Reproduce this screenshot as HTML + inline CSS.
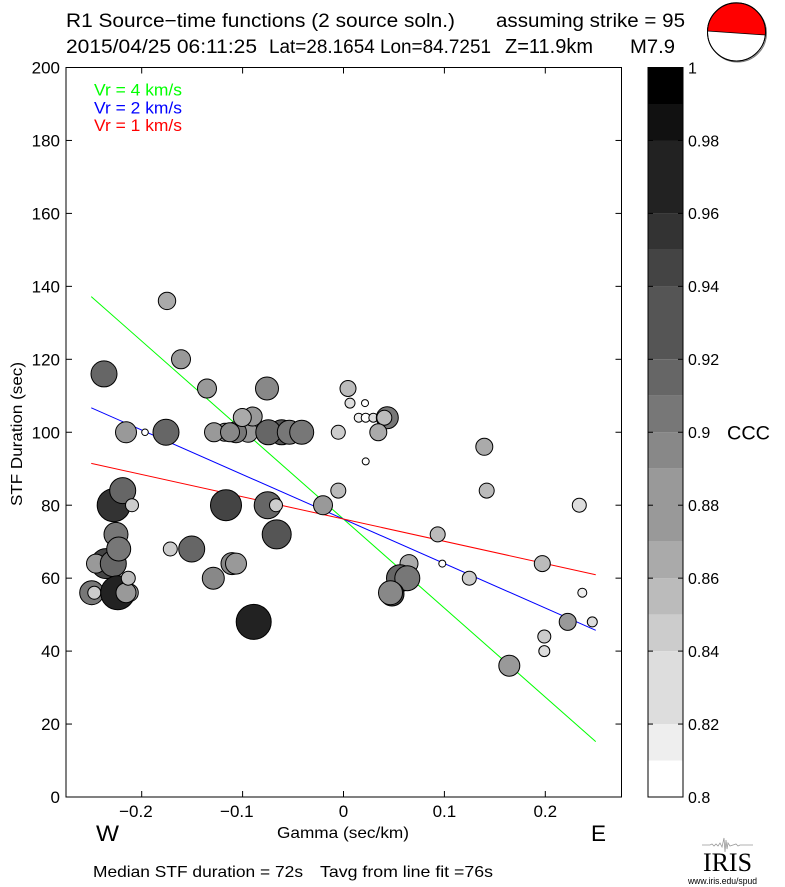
<!DOCTYPE html>
<html><head><meta charset="utf-8"><style>
html,body{margin:0;padding:0;background:#fff;}
svg{display:block;}
text{font-family:"Liberation Sans",sans-serif;fill:#000;}
</style></head><body>
<svg width="785" height="887" viewBox="0 0 785 887" xmlns="http://www.w3.org/2000/svg">
<rect width="785" height="887" fill="#fff"/>
<!-- titles -->
<text x="66" y="27" font-size="19" textLength="389" lengthAdjust="spacingAndGlyphs">R1 Source−time functions (2 source soln.)</text>
<text x="496" y="27" font-size="19" textLength="189" lengthAdjust="spacingAndGlyphs">assuming strike = 95</text>
<text x="66" y="53" font-size="19" textLength="191" lengthAdjust="spacingAndGlyphs">2015/04/25 06:11:25</text>
<text x="269" y="53" font-size="19" textLength="222" lengthAdjust="spacingAndGlyphs">Lat=28.1654 Lon=84.7251</text>
<text x="505" y="53" font-size="20">Z=11.9km</text>
<text x="630" y="53" font-size="19" textLength="45" lengthAdjust="spacingAndGlyphs">M7.9</text>
<!-- beachball -->
<circle cx="737.5" cy="33" r="29" fill="none" stroke="#777" stroke-width="1"/>
<circle cx="736.5" cy="32" r="29" fill="#fff" stroke="#000" stroke-width="1"/>
<path d="M707.5,31 A29,29 0 1,1 765.3,35 Z" fill="#f00" stroke="#000" stroke-width="0.8"/>
<circle cx="736.5" cy="32" r="29" fill="none" stroke="#000" stroke-width="1"/>

<!-- regression lines -->
<line x1="91.25" y1="296.6" x2="595.75" y2="741.6" stroke="#0f0" stroke-width="1"/>
<line x1="91.25" y1="407.8" x2="595.75" y2="630.3" stroke="#00f" stroke-width="1"/>
<line x1="91.25" y1="463.4" x2="595.75" y2="574.7" stroke="#f00" stroke-width="1"/>

<!-- markers -->
<g stroke="#000" stroke-width="1">
<circle cx="104" cy="373.9" r="13" fill="#666"/>
<circle cx="167" cy="300.9" r="8.7" fill="#aaa"/>
<circle cx="181" cy="359.3" r="9.5" fill="#999"/>
<circle cx="207" cy="388.5" r="9.5" fill="#999"/>
<circle cx="267" cy="388.5" r="11.5" fill="#888"/>
<circle cx="126" cy="432.25" r="10.5" fill="#999"/>
<circle cx="145" cy="432.25" r="3.3" fill="#fff"/>
<circle cx="166" cy="432.25" r="13" fill="#666"/>

<circle cx="248" cy="432.25" r="10" fill="#999"/>
<circle cx="225" cy="432.25" r="9" fill="#999"/>
<circle cx="236" cy="432.25" r="10.5" fill="#777"/>
<circle cx="214" cy="432.25" r="9.5" fill="#999"/>
<circle cx="230" cy="432.25" r="9.5" fill="#888"/>
<circle cx="252.7" cy="416.5" r="9.5" fill="#999"/>
<circle cx="242.3" cy="417.5" r="9" fill="#aaa"/>
<circle cx="281.7" cy="432.25" r="12.5" fill="#555"/>
<circle cx="268.3" cy="432.25" r="12.5" fill="#666"/>
<circle cx="289.3" cy="432.25" r="12" fill="#777"/>
<circle cx="301.7" cy="432.25" r="12" fill="#777"/>

<circle cx="113.7" cy="505.2" r="16.5" fill="#333"/>
<circle cx="122.7" cy="490.6" r="13" fill="#666"/>
<circle cx="132" cy="505.2" r="6.5" fill="#ccc"/>
<circle cx="106" cy="563.6" r="15" fill="#444"/>
<circle cx="96" cy="563.6" r="9.5" fill="#999"/>
<circle cx="113.3" cy="563.6" r="13" fill="#666"/>
<circle cx="116" cy="534.4" r="12" fill="#777"/>
<circle cx="118.7" cy="549" r="12" fill="#777"/>
<circle cx="91.7" cy="592.7" r="12" fill="#777"/>
<circle cx="94.3" cy="592.7" r="6.5" fill="#ccc"/>
<circle cx="117.7" cy="592.7" r="17" fill="#222"/>
<circle cx="129.3" cy="592.7" r="9" fill="#999"/>
<circle cx="126" cy="592.7" r="10" fill="#999"/>
<circle cx="128.3" cy="578.2" r="7" fill="#bbb"/>

<circle cx="170.3" cy="549" r="7" fill="#ccc"/>
<circle cx="191.7" cy="549" r="13" fill="#666"/>
<circle cx="226" cy="505.2" r="15.5" fill="#444"/>
<circle cx="267.7" cy="505.2" r="13.5" fill="#666"/>
<circle cx="276" cy="505.2" r="6.5" fill="#ccc"/>
<circle cx="276.7" cy="534.4" r="14.5" fill="#555"/>
<circle cx="232" cy="563.6" r="11" fill="#888"/>
<circle cx="236" cy="563.6" r="10.5" fill="#999"/>
<circle cx="213.3" cy="578.2" r="11" fill="#888"/>
<circle cx="253.7" cy="621.9" r="17.5" fill="#222"/>

<circle cx="348" cy="388.5" r="8" fill="#bbb"/>
<circle cx="350" cy="403.1" r="5" fill="#ddd"/>
<circle cx="365" cy="403.1" r="3.5" fill="#fff"/>
<circle cx="358.7" cy="417.7" r="4.5" fill="#eee"/>
<circle cx="365.7" cy="417.7" r="4.5" fill="#fff"/>
<circle cx="373.3" cy="417.7" r="4.5" fill="#ddd"/>
<circle cx="387.3" cy="417.7" r="11" fill="#777"/>
<circle cx="384.3" cy="417.7" r="7.5" fill="#bbb"/>
<circle cx="338.3" cy="432.25" r="7" fill="#ccc"/>
<circle cx="378.3" cy="432.25" r="8.5" fill="#aaa"/>
<circle cx="365.7" cy="461.4" r="3.5" fill="#fff"/>
<circle cx="338.3" cy="490.6" r="7.5" fill="#bbb"/>
<circle cx="323" cy="505.2" r="9.5" fill="#999"/>

<circle cx="484.3" cy="446.8" r="8.5" fill="#aaa"/>
<circle cx="486.7" cy="490.6" r="7.5" fill="#bbb"/>
<circle cx="579.3" cy="505.2" r="7" fill="#ddd"/>
<circle cx="437.7" cy="534.4" r="7.5" fill="#bbb"/>
<circle cx="442.3" cy="563.6" r="3.5" fill="#fff"/>
<circle cx="409" cy="563.6" r="9" fill="#aaa"/>
<circle cx="400" cy="578.2" r="13.5" fill="#666"/>
<circle cx="407.3" cy="578.2" r="12.5" fill="#777"/>
<circle cx="392" cy="594" r="12" fill="#444"/>
<circle cx="390.5" cy="592.7" r="12" fill="#888"/>
<circle cx="469.3" cy="578.2" r="7" fill="#ccc"/>
<circle cx="542.3" cy="563.6" r="8" fill="#bbb"/>
<circle cx="582.3" cy="592.7" r="4.5" fill="#eee"/>
<circle cx="567.7" cy="621.9" r="8.5" fill="#999"/>
<circle cx="592.3" cy="621.9" r="5" fill="#ddd"/>
<circle cx="544.3" cy="636.5" r="6.5" fill="#ccc"/>
<circle cx="544.3" cy="651.1" r="5.5" fill="#ddd"/>
<circle cx="509.3" cy="665.7" r="10.5" fill="#999"/>
</g>

<!-- legend -->
<text x="94" y="95.5" font-size="17" style="fill:#0f0" textLength="88" lengthAdjust="spacingAndGlyphs">Vr = 4 km/s</text>
<text x="94" y="113.5" font-size="17" style="fill:#00f" textLength="88" lengthAdjust="spacingAndGlyphs">Vr = 2 km/s</text>
<text x="94" y="131" font-size="17" style="fill:#f00" textLength="88" lengthAdjust="spacingAndGlyphs">Vr = 1 km/s</text>

<!-- axes frame -->
<rect x="66" y="67.5" width="555.5" height="729.5" fill="none" stroke="#000" stroke-width="1"/>
<g stroke="#000" stroke-width="1">
<line x1="141.7" y1="67.5" x2="141.7" y2="73.5"/><line x1="141.7" y1="797" x2="141.7" y2="791"/>
<line x1="242.6" y1="67.5" x2="242.6" y2="73.5"/><line x1="242.6" y1="797" x2="242.6" y2="791"/>
<line x1="343.5" y1="67.5" x2="343.5" y2="73.5"/><line x1="343.5" y1="797" x2="343.5" y2="791"/>
<line x1="444.4" y1="67.5" x2="444.4" y2="73.5"/><line x1="444.4" y1="797" x2="444.4" y2="791"/>
<line x1="545.3" y1="67.5" x2="545.3" y2="73.5"/><line x1="545.3" y1="797" x2="545.3" y2="791"/>
<line x1="66" y1="140.45" x2="72" y2="140.45"/><line x1="621.5" y1="140.45" x2="615.5" y2="140.45"/>
<line x1="66" y1="213.4" x2="72" y2="213.4"/><line x1="621.5" y1="213.4" x2="615.5" y2="213.4"/>
<line x1="66" y1="286.35" x2="72" y2="286.35"/><line x1="621.5" y1="286.35" x2="615.5" y2="286.35"/>
<line x1="66" y1="359.3" x2="72" y2="359.3"/><line x1="621.5" y1="359.3" x2="615.5" y2="359.3"/>
<line x1="66" y1="432.25" x2="72" y2="432.25"/><line x1="621.5" y1="432.25" x2="615.5" y2="432.25"/>
<line x1="66" y1="505.2" x2="72" y2="505.2"/><line x1="621.5" y1="505.2" x2="615.5" y2="505.2"/>
<line x1="66" y1="578.15" x2="72" y2="578.15"/><line x1="621.5" y1="578.15" x2="615.5" y2="578.15"/>
<line x1="66" y1="651.1" x2="72" y2="651.1"/><line x1="621.5" y1="651.1" x2="615.5" y2="651.1"/>
<line x1="66" y1="724.05" x2="72" y2="724.05"/><line x1="621.5" y1="724.05" x2="615.5" y2="724.05"/>
</g>

<!-- y tick labels -->
<g font-size="17" text-anchor="end">
<text x="60" y="73.6">200</text>
<text x="60" y="146.5">180</text>
<text x="60" y="219.5">160</text>
<text x="60" y="292.4">140</text>
<text x="60" y="365.4">120</text>
<text x="60" y="438.3">100</text>
<text x="60" y="511.3">80</text>
<text x="60" y="584.2">60</text>
<text x="60" y="657.2">40</text>
<text x="60" y="730.1">20</text>
<text x="60" y="803.1">0</text>
</g>
<!-- x tick labels -->
<g font-size="17">
<text x="152.7" y="817" text-anchor="end">−0.2</text>
<text x="253.6" y="817" text-anchor="end">−0.1</text>
<text x="343.5" y="817" text-anchor="middle">0</text>
<text x="444.4" y="817" text-anchor="middle">0.1</text>
<text x="545.3" y="817" text-anchor="middle">0.2</text>
</g>

<text x="96" y="841" font-size="22" textLength="23" lengthAdjust="spacingAndGlyphs">W</text>
<text x="591" y="841" font-size="22" textLength="15" lengthAdjust="spacingAndGlyphs">E</text>
<text x="277" y="838" font-size="16" textLength="132" lengthAdjust="spacingAndGlyphs">Gamma (sec/km)</text>
<text x="93" y="877" font-size="16" textLength="210" lengthAdjust="spacingAndGlyphs">Median STF duration = 72s</text>
<text x="320" y="877" font-size="16" textLength="173" lengthAdjust="spacingAndGlyphs">Tavg from line fit =76s</text>

<text transform="translate(22,434) rotate(-90)" font-size="16" text-anchor="middle" textLength="144" lengthAdjust="spacingAndGlyphs">STF Duration (sec)</text>

<!-- colorbar -->
<g>
<rect x="648" y="67.5" width="35" height="36.5" fill="#000"/>
<rect x="648" y="104" width="35" height="36.5" fill="#111"/>
<rect x="648" y="140.4" width="35" height="73" fill="#222"/>
<rect x="648" y="213.4" width="35" height="36.5" fill="#333"/>
<rect x="648" y="249.9" width="35" height="36.5" fill="#444"/>
<rect x="648" y="286.3" width="35" height="73" fill="#555"/>
<rect x="648" y="359.3" width="35" height="36.5" fill="#666"/>
<rect x="648" y="395.8" width="35" height="36.5" fill="#777"/>
<rect x="648" y="432.2" width="35" height="36.5" fill="#888"/>
<rect x="648" y="468.7" width="35" height="73" fill="#999"/>
<rect x="648" y="541.7" width="35" height="36.5" fill="#aaa"/>
<rect x="648" y="578.1" width="35" height="36.5" fill="#bbb"/>
<rect x="648" y="614.6" width="35" height="36.5" fill="#ccc"/>
<rect x="648" y="651.1" width="35" height="73" fill="#ddd"/>
<rect x="648" y="724" width="35" height="36.5" fill="#eee"/>
<rect x="648" y="760.5" width="35" height="36.5" fill="#fff"/>
</g>
<rect x="648" y="67.5" width="35" height="729.5" fill="none" stroke="#000" stroke-width="1"/>
<g stroke="#000" stroke-width="1">
<line x1="648" y1="140.45" x2="653" y2="140.45"/><line x1="683" y1="140.45" x2="678" y2="140.45"/>
<line x1="648" y1="213.4" x2="653" y2="213.4"/><line x1="683" y1="213.4" x2="678" y2="213.4"/>
<line x1="648" y1="286.35" x2="653" y2="286.35"/><line x1="683" y1="286.35" x2="678" y2="286.35"/>
<line x1="648" y1="359.3" x2="653" y2="359.3"/><line x1="683" y1="359.3" x2="678" y2="359.3"/>
<line x1="648" y1="432.25" x2="653" y2="432.25"/><line x1="683" y1="432.25" x2="678" y2="432.25"/>
<line x1="648" y1="505.2" x2="653" y2="505.2"/><line x1="683" y1="505.2" x2="678" y2="505.2"/>
<line x1="648" y1="578.15" x2="653" y2="578.15"/><line x1="683" y1="578.15" x2="678" y2="578.15"/>
<line x1="648" y1="651.1" x2="653" y2="651.1"/><line x1="683" y1="651.1" x2="678" y2="651.1"/>
<line x1="648" y1="724.05" x2="653" y2="724.05"/><line x1="683" y1="724.05" x2="678" y2="724.05"/>
</g>
<g font-size="16">
<text x="688" y="73.3">1</text>
<text x="688" y="146.3">0.98</text>
<text x="688" y="219.2">0.96</text>
<text x="688" y="292.2">0.94</text>
<text x="688" y="365.1">0.92</text>
<text x="688" y="438.1">0.9</text>
<text x="688" y="511">0.88</text>
<text x="688" y="584">0.86</text>
<text x="688" y="656.9">0.84</text>
<text x="688" y="729.9">0.82</text>
<text x="688" y="802.8">0.8</text>
</g>
<text x="727" y="439.5" font-size="19" textLength="43" lengthAdjust="spacingAndGlyphs">CCC</text>

<!-- IRIS logo -->
<polyline points="702,845 710,845 712,844 714,846 716,844 718,846 720,843 722,847 724,838 725,852 726,840 727,849 728,843 730,846 733,845 736,844 738,846 740,845 753,845" fill="none" stroke="#999" stroke-width="0.8"/>
<text x="703" y="871" font-size="26" style="font-family:'Liberation Serif',serif" textLength="49" lengthAdjust="spacingAndGlyphs">IRIS</text>
<text x="688" y="884" font-size="9.5" textLength="69" lengthAdjust="spacingAndGlyphs">www.iris.edu/spud</text>
</svg>
</body></html>
